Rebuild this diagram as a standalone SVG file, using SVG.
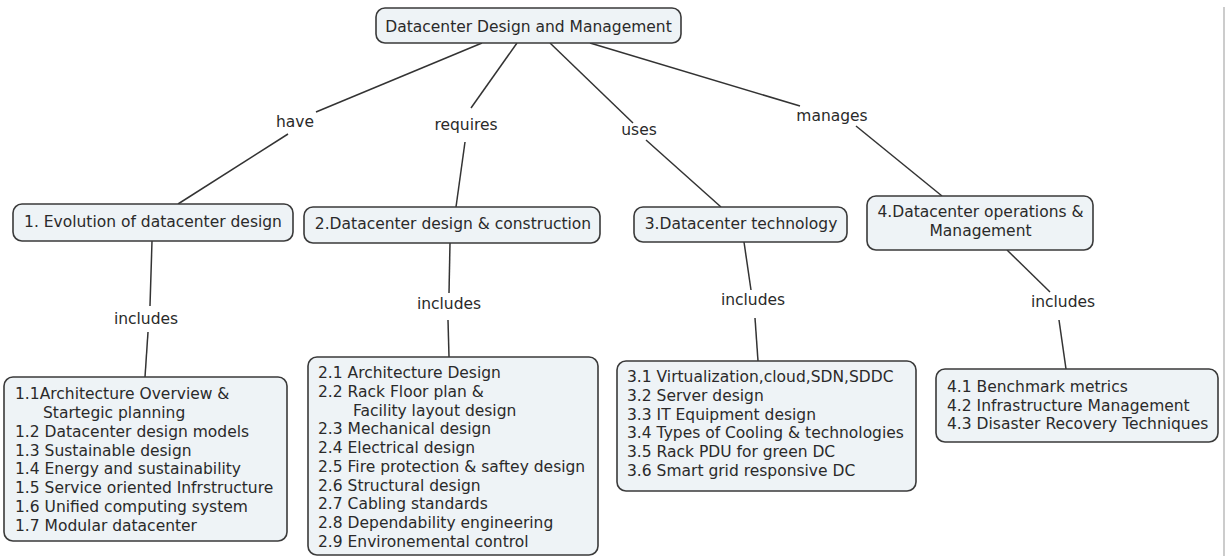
<svg xmlns="http://www.w3.org/2000/svg" width="1225" height="556" viewBox="0 0 1225 556">
<style>
  .box { fill: #eef3f6; stroke: #3a3a3a; stroke-width: 1.6; }
  .t { font-family: "DejaVu Sans", Verdana, sans-serif; font-size: 15.5px; fill: #2a2a2a; }
  .lbl { font-family: "DejaVu Sans", Verdana, sans-serif; font-size: 15.5px; fill: #2a2a2a; }
  .c { stroke: #333; stroke-width: 1.5; fill: none; }
</style>
<rect x="0" y="0" width="1225" height="556" fill="#ffffff"/>
<line x1="1224" y1="7" x2="1224" y2="556" stroke="#999" stroke-width="1"/>

<g id="connectors">
  <line class="c" x1="482" y1="43" x2="316" y2="112"/>
  <line class="c" x1="288" y1="134" x2="178" y2="204"/>
  <line class="c" x1="517" y1="43" x2="471" y2="108"/>
  <line class="c" x1="465" y1="142" x2="456" y2="207"/>
  <line class="c" x1="550" y1="43" x2="633" y2="123"/>
  <line class="c" x1="646" y1="140" x2="721" y2="207"/>
  <line class="c" x1="590" y1="43" x2="800" y2="106"/>
  <line class="c" x1="856" y1="126" x2="942" y2="196"/>
  <line class="c" x1="152" y1="241" x2="150" y2="306"/>
  <line class="c" x1="148" y1="332" x2="145" y2="377"/>
  <line class="c" x1="450" y1="243" x2="449" y2="293"/>
  <line class="c" x1="448" y1="320" x2="449" y2="357"/>
  <line class="c" x1="744" y1="242" x2="751" y2="290"/>
  <line class="c" x1="755" y1="318" x2="758" y2="361"/>
  <line class="c" x1="1007" y1="250" x2="1050" y2="292"/>
  <line class="c" x1="1059" y1="320" x2="1066" y2="369"/>
</g>

<g id="labels">
  <text class="lbl" x="295" y="127" text-anchor="middle">have</text>
  <text class="lbl" x="466" y="130" text-anchor="middle">requires</text>
  <text class="lbl" x="639" y="135" text-anchor="middle">uses</text>
  <text class="lbl" x="832" y="121" text-anchor="middle">manages</text>
  <text class="lbl" x="146" y="324" text-anchor="middle">includes</text>
  <text class="lbl" x="449" y="309" text-anchor="middle">includes</text>
  <text class="lbl" x="753" y="305" text-anchor="middle">includes</text>
  <text class="lbl" x="1063" y="307" text-anchor="middle">includes</text>
</g>

<g id="root">
  <rect class="box" x="376" y="8" width="305" height="35" rx="9"/>
  <text class="t" x="528.5" y="31.5" text-anchor="middle">Datacenter Design and Management</text>
</g>

<g id="n1">
  <rect class="box" x="13" y="204" width="280" height="37" rx="9"/>
  <text class="t" x="153" y="227" text-anchor="middle">1. Evolution of datacenter design</text>
</g>

<g id="n2">
  <rect class="box" x="304" y="207" width="296" height="36" rx="9"/>
  <text class="t" x="453" y="229" text-anchor="middle">2.Datacenter design &amp; construction</text>
</g>

<g id="n3">
  <rect class="box" x="634" y="207" width="213" height="35" rx="9"/>
  <text class="t" x="741" y="229" text-anchor="middle">3.Datacenter technology</text>
</g>

<g id="n4">
  <rect class="box" x="867" y="196" width="226" height="54" rx="9"/>
  <text class="t" x="980.5" y="217" text-anchor="middle">4.Datacenter operations &amp;</text>
  <text class="t" x="980.5" y="236" text-anchor="middle">Management</text>
</g>

<g id="d1">
  <rect class="box" x="4" y="377" width="283" height="164" rx="9"/>
  <text class="t" x="15" y="399">1.1Architecture Overview &amp;</text>
  <text class="t" x="43" y="418">Startegic planning</text>
  <text class="t" x="15" y="437">1.2 Datacenter design models</text>
  <text class="t" x="15" y="456">1.3 Sustainable design</text>
  <text class="t" x="15" y="474">1.4 Energy and sustainability</text>
  <text class="t" x="15" y="493">1.5 Service oriented Infrstructure</text>
  <text class="t" x="15" y="512">1.6 Unified computing system</text>
  <text class="t" x="15" y="531">1.7 Modular datacenter</text>
</g>

<g id="d2">
  <rect class="box" x="308" y="357" width="290" height="198" rx="9"/>
  <text class="t" x="318" y="378">2.1 Architecture Design</text>
  <text class="t" x="318" y="397">2.2 Rack Floor plan &amp;</text>
  <text class="t" x="353" y="416">Facility layout design</text>
  <text class="t" x="318" y="434">2.3 Mechanical design</text>
  <text class="t" x="318" y="453">2.4 Electrical design</text>
  <text class="t" x="318" y="472">2.5 Fire protection &amp; saftey design</text>
  <text class="t" x="318" y="491">2.6 Structural design</text>
  <text class="t" x="318" y="509">2.7 Cabling standards</text>
  <text class="t" x="318" y="528">2.8 Dependability engineering</text>
  <text class="t" x="318" y="547">2.9 Environemental control</text>
</g>

<g id="d3">
  <rect class="box" x="617" y="361" width="299" height="130" rx="9"/>
  <text class="t" x="627" y="382">3.1 Virtualization,cloud,SDN,SDDC</text>
  <text class="t" x="627" y="401">3.2 Server design</text>
  <text class="t" x="627" y="420">3.3 IT Equipment design</text>
  <text class="t" x="627" y="438">3.4 Types of Cooling &amp; technologies</text>
  <text class="t" x="627" y="457">3.5 Rack PDU for green DC</text>
  <text class="t" x="627" y="476">3.6 Smart grid responsive DC</text>
</g>

<g id="d4">
  <rect class="box" x="936" y="369" width="282" height="73" rx="9"/>
  <text class="t" x="947" y="392">4.1 Benchmark metrics</text>
  <text class="t" x="947" y="411">4.2 Infrastructure Management</text>
  <text class="t" x="947" y="429">4.3 Disaster Recovery Techniques</text>
</g>
</svg>
